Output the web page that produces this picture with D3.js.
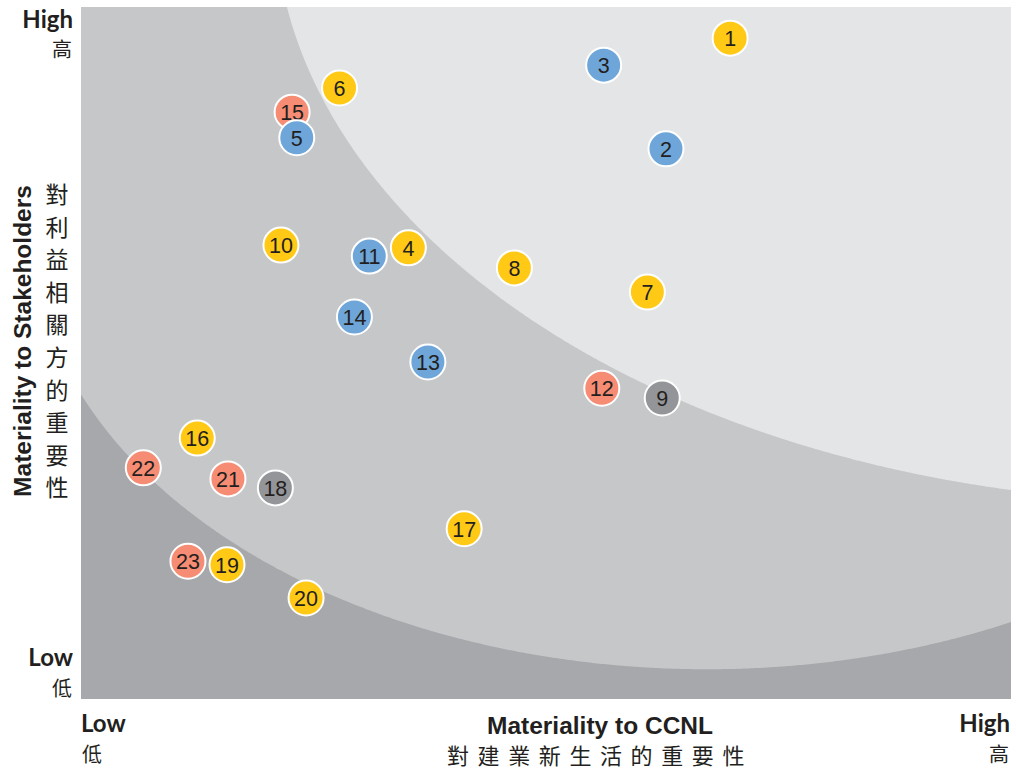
<!DOCTYPE html>
<html><head><meta charset="utf-8">
<script src="https://cdn.jsdelivr.net/npm/d3@7"></script>
<style>
body{margin:0;background:#fff;}
svg{display:block;}
</style></head>
<body>
<svg id="chart" width="1016" height="770"></svg>
<script>
// ---- data ----
const ids      = [1,2,3,4,5,6,7,8,9,10,11,12,13,14,15,16,17,18,19,20,21,22,23];
const xValues  = [6.98,6.29,5.62,3.52,2.32,2.78,6.09,4.66,6.25,2.15,3.10,5.60,3.73,2.94,2.27,1.25,4.12,2.09,1.57,2.42,1.58,0.67,1.15];
const yValues  = [9.55,7.95,9.16,6.52,8.11,8.83,5.88,6.23,4.35,6.56,6.40,4.49,4.87,5.52,8.48,3.77,2.46,3.05,1.94,1.46,3.18,3.34,1.99];
const groups   = ["y","b","b","y","b","y","y","y","g","y","b","r","b","b","r","y","y","g","y","y","r","r","r"];
const drawOrder = [1,3,2,6,15,5,10,11,4,8,7,14,13,12,9,16,22,21,18,17,23,19,20];
const groupColors = {y:"#ffc915", b:"#6fa6d9", r:"#f58c73", g:"#949598"};
const yTickLabels = [{en:"High",zh:"高"},{en:"Low",zh:"低"}];
const xTickLabels = [{en:"Low",zh:"低"},{en:"High",zh:"高"}];
const xTitle = ["Materiality to CCNL","對建業新生活的重要性"];
const yTitle = ["Materiality to Stakeholders","對利益相關方的重要性"];
// zone boundaries (ellipses, data units)
const innerZone = {cx:6.73, cy:6.79, rx:7.26, ry:6.36};
const outerZone = {cx:12.03, cy:11.40, rx:9.95, ry:8.56};

// ---- layout ----
const svg = d3.select("#chart");
const L=81, R=1011, T=7, B=699;
const x = d3.scaleLinear().domain([0,10]).range([L,R]);
const y = d3.scaleLinear().domain([0,10]).range([B,T]);

svg.append("defs").append("clipPath").attr("id","plotclip")
  .append("rect").attr("x",L).attr("y",T).attr("width",R-L).attr("height",B-T);
const bg = svg.append("g").attr("clip-path","url(#plotclip)");
bg.append("rect").attr("x",L).attr("y",T).attr("width",R-L).attr("height",B-T).attr("fill","#a7a8ab");

function lowerArc(e, x0, x1){
  return d3.range(0,401).map(i=>{
    const xv = x0 + (x1-x0)*i/400;
    const u = (xv-e.cx)/e.rx;
    const s = Math.sqrt(Math.max(0,1-u*u));
    return [xv, e.cy - e.ry*s];
  });
}
const line = d3.line().x(d=>x(d[0])).y(d=>y(d[1]));
const midPts = [[0,10.5]].concat(lowerArc(innerZone,0,10)).concat([[10,10.5]]);
bg.append("path").attr("d",line(midPts)+"Z").attr("fill","#c6c7c9");
const xs = outerZone.cx - outerZone.rx*Math.sqrt(1-Math.pow((10.5-outerZone.cy)/outerZone.ry,2));
const topPts = lowerArc(outerZone, xs, 10.5).concat([[10.5,10.5]]);
bg.append("path").attr("d",line(topPts)+"Z").attr("fill","#e4e5e7");

// ---- points ----
const pts = drawOrder.map(id=>{
  const i = ids.indexOf(id);
  return {id, x:xValues[i], y:yValues[i], g:groups[i]};
});
const pg = svg.append("g").selectAll("g").data(pts).join("g")
  .attr("transform",d=>`translate(${x(d.x)},${y(d.y)})`);
pg.append("circle").attr("r",17.5).attr("fill",d=>groupColors[d.g])
  .attr("stroke","#fff").attr("stroke-width",2);
pg.append("text").attr("text-anchor","middle").attr("dy","0.36em")
  .attr("font-family","Liberation Sans, Arial, sans-serif").attr("font-size",21.5)
  .attr("fill","#231f20").text(d=>d.id);

// ---- axis labels ----
const en = "Lato, 'Liberation Sans', sans-serif";
const zh = "'Noto Sans CJK TC', sans-serif";
const txtCol = "#231f20";
[[yTickLabels[0], 28, 57],[yTickLabels[1], 666, 696]].forEach(([t,a,b])=>{
  svg.append("text").attr("x",73).attr("y",a).attr("text-anchor","end")
    .attr("font-family",en).attr("font-weight","bold").attr("font-size",24).attr("fill",txtCol).text(t.en);
  svg.append("text").attr("x",72).attr("y",b).attr("text-anchor","end")
    .attr("font-family",zh).attr("font-size",20).attr("fill",txtCol).text(t.zh);
});
svg.append("text").attr("x",81).attr("y",732).attr("font-family",en).attr("font-weight","bold")
  .attr("font-size",24).attr("fill",txtCol).text(xTickLabels[0].en);
svg.append("text").attr("x",82).attr("y",762).attr("font-family",zh)
  .attr("font-size",20).attr("fill",txtCol).text(xTickLabels[0].zh);
svg.append("text").attr("x",1010).attr("y",732).attr("text-anchor","end").attr("font-family",en).attr("font-weight","bold")
  .attr("font-size",24).attr("fill",txtCol).text(xTickLabels[1].en);
svg.append("text").attr("x",1009).attr("y",762).attr("text-anchor","end").attr("font-family",zh)
  .attr("font-size",20).attr("fill",txtCol).text(xTickLabels[1].zh);
// x title
svg.append("text").attr("x",600).attr("y",734).attr("text-anchor","middle")
  .attr("font-family","'Liberation Sans', Arial, sans-serif").attr("font-weight","bold")
  .attr("font-size",24.5).attr("fill",txtCol).text(xTitle[0]);
svg.append("text").attr("x",600).attr("y",764).attr("text-anchor","middle")
  .attr("font-family",zh).attr("font-size",22).attr("letter-spacing",8.6).attr("fill",txtCol)
  .text(xTitle[1]);
// y title
svg.append("text").attr("transform","translate(31,341) rotate(-90)").attr("text-anchor","middle")
  .attr("font-family","'Liberation Sans', Arial, sans-serif").attr("font-weight","bold")
  .attr("font-size",24.5).attr("fill",txtCol).text(yTitle[0]);
const vt = svg.append("text").attr("font-family",zh).attr("font-size",23).attr("fill",txtCol).attr("text-anchor","middle");
Array.from(yTitle[1]).forEach((c,i)=>{
  vt.append("tspan").attr("x",57).attr("y",203+i*32.6).text(c);
});
</script>
</body></html>
